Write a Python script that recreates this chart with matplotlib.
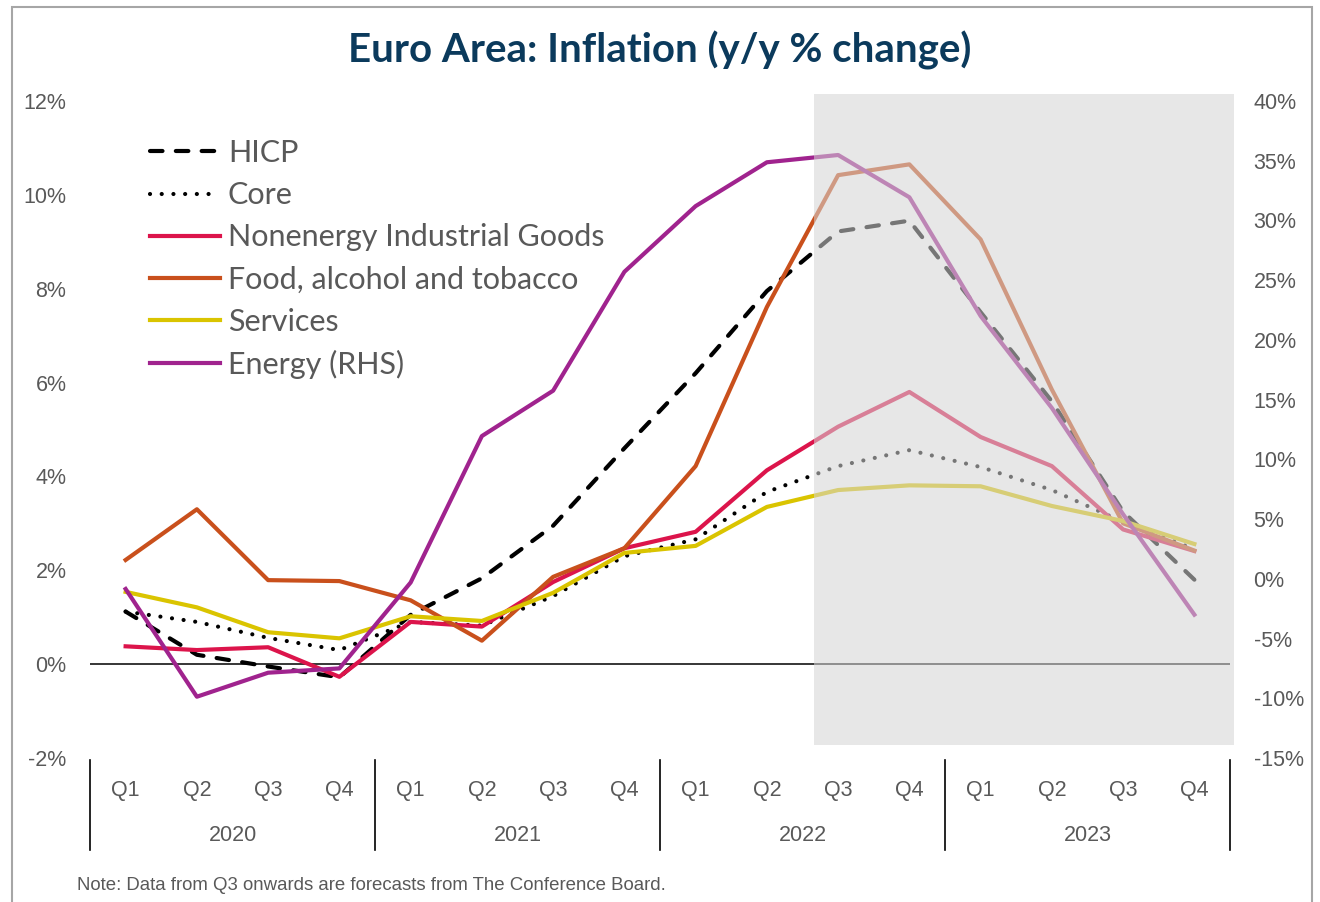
import numpy as np
import matplotlib
matplotlib.use("Agg")
import matplotlib.pyplot as plt
from matplotlib import patches
from matplotlib.ticker import FuncFormatter, MultipleLocator
from matplotlib.transforms import blended_transform_factory

# --- data (y/y % change) ---
years = ["2020", "2021", "2022", "2023"]
quarters = ["Q1", "Q2", "Q3", "Q4"]

hicp = [1.12, 0.20, -0.05, -0.28, 1.05, 1.83, 2.95, 4.60, 6.20, 7.95, 9.22, 9.45, 7.50, 5.60, 3.25, 1.80]
core = [1.12, 0.90, 0.56, 0.30, 0.90, 0.82, 1.45, 2.30, 2.66, 3.67, 4.22, 4.56, 4.20, 3.71, 3.03, 2.45]
neig = [0.38, 0.30, 0.36, -0.27, 0.90, 0.80, 1.75, 2.47, 2.82, 4.13, 5.06, 5.80, 4.84, 4.22, 2.87, 2.41]
food = [2.22, 3.30, 1.79, 1.77, 1.36, 0.50, 1.86, 2.47, 4.22, 7.61, 10.42, 10.65, 9.05, 5.85, 3.00, 2.42]
services = [1.54, 1.21, 0.68, 0.55, 1.02, 0.92, 1.52, 2.37, 2.52, 3.35, 3.71, 3.81, 3.79, 3.37, 3.05, 2.56]
energy = [-0.85, -9.87, -7.86, -7.50, -0.31, 11.95, 15.75, 25.70, 31.20, 34.87, 35.48, 31.94, 22.00, 14.30, 5.40, -3.00]

x = np.arange(len(hicp))

# forecast shading (in left-axis data units)
shade_x0, shade_x1 = 9.66, 15.56
shade_y0, shade_y1 = -1.73, 12.15

c_red = "#DC144B"
c_orange = "#C9501C"
c_yellow = "#DAC400"
c_purple = "#A0238E"
c_grey = "#595959"

fig = plt.figure(figsize=(13.2, 9.02), dpi=100)
ax = fig.add_axes([90 / 1320, 144 / 902, 1140 / 1320, 657 / 902])
ax2 = ax.twinx()

lw = 3.0
l1, = ax.plot(x, hicp, color="black", lw=lw, ls=(0, (3.0, 3.2)), dash_capstyle="round", label="HICP")
l2, = ax.plot(x, core, color="black", lw=lw, ls=(0, (0.01, 2.8)), dash_capstyle="round", label="Core")
l3, = ax.plot(x, neig, color=c_red, lw=lw, label="Nonenergy Industrial Goods")
l4, = ax.plot(x, food, color=c_orange, lw=lw, label="Food, alcohol and tobacco")
l5, = ax.plot(x, services, color=c_yellow, lw=lw, label="Services")
l6, = ax2.plot(x, energy, color=c_purple, lw=lw, label="Energy (RHS)")
ax.axhline(0, color="black", lw=1.1, zorder=1)

ax.set_xlim(-0.5, len(x) - 0.5)
ax.set_ylim(-2, 12)
ax2.set_ylim(-15, 40)
ax.yaxis.set_major_locator(MultipleLocator(2))
ax2.yaxis.set_major_locator(MultipleLocator(5))
fmt = FuncFormatter(lambda v, p: f"{v:.0f}%")
ax.yaxis.set_major_formatter(fmt)
ax2.yaxis.set_major_formatter(fmt)
ax.set_xticks([])
for a in (ax, ax2):
    for s in a.spines.values():
        s.set_visible(False)
    a.tick_params(axis="y", length=0, labelsize=15.5, labelcolor=c_grey, pad=17)
    for t in a.get_yticklabels():
        t.set_fontfamily("Liberation Sans")

# shaded forecast box drawn over the lines
shade = patches.Rectangle((shade_x0, shade_y0), shade_x1 - shade_x0, shade_y1 - shade_y0,
                          transform=ax.transData, facecolor=(213 / 255, 213 / 255, 213 / 255),
                          alpha=0.557, edgecolor="none", clip_on=False, zorder=10)
ax2.add_patch(shade)

# category axis: quarters and years
tr = blended_transform_factory(ax.transData, ax.transAxes)
for i in x:
    ax.text(i, -0.049, quarters[i % 4], transform=tr, ha="center", va="center",
            fontsize=15.5, color=c_grey, family="Liberation Sans")
for j, yr in enumerate(years):
    ax.text(j * 4 + 1.5, -0.118, yr, transform=tr, ha="center", va="center",
            fontsize=15.5, color=c_grey, family="Liberation Sans")
for j in range(len(years) + 1):
    ax.plot([j * 4 - 0.5] * 2, [-0.003, -0.14], transform=tr, color="black", lw=1.2, clip_on=False)

leg = ax2.legend(handles=[l1, l2, l3, l4, l5, l6], loc="upper left",
                 bbox_to_anchor=(150 / 1320, 1 - 139 / 902), bbox_transform=fig.transFigure,
                 frameon=False, handlelength=2.29, handletextpad=0.26,
                 labelspacing=0.465, borderpad=0, borderaxespad=0, prop={"family": "Lato", "size": 22})
for t in leg.get_texts():
    t.set_color(c_grey)

fig.text(0.5, 1 - 50 / 902, "Euro Area: Inflation (y/y % change)", ha="center", va="center",
         fontsize=29, fontweight="bold", color="#0B3A5C", family="Lato")
fig.text(77 / 1320, 1 - 886 / 902, "Note: Data from Q3 onwards are forecasts from The Conference Board.",
         ha="left", va="center", fontsize=13.4, color=c_grey, family="Liberation Sans")

# outer frame
fig.add_artist(patches.Rectangle((12 / 1320, -0.02), 1300 / 1320, 1.02 - 7 / 902,
                                 transform=fig.transFigure, fill=False, edgecolor="#A6A6A6", lw=1.5))

fig.savefig("out.png", dpi=100)
